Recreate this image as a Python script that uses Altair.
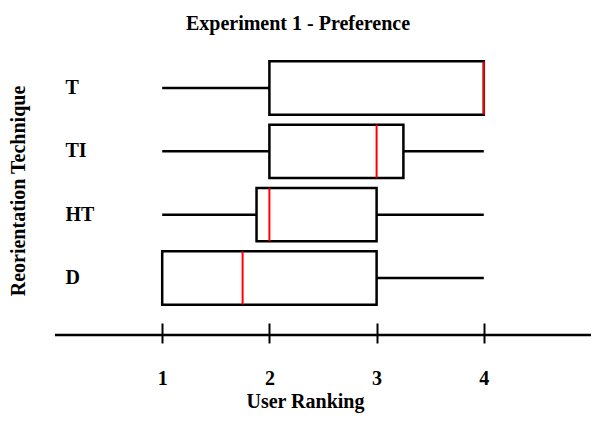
import altair as alt
import pandas as pd

categories = ["T", "TI", "HT", "D"]
lower_whisker = [1, 1, 1, 1]
q1 = [2, 2, 1.88, 1]
median = [4, 3, 2, 1.75]
q3 = [4, 3.25, 3, 3]
upper_whisker = [4, 4, 4, 4]
tick_values = [1, 2, 3, 4]
axis_extent = [0, 5.03]

df = pd.DataFrame({
    "cat": categories,
    "lo": lower_whisker,
    "q1": q1,
    "med": median,
    "q3": q3,
    "hi": upper_whisker,
})
axis_df = pd.DataFrame({"start": [axis_extent[0]], "end": [axis_extent[1]]})

FONT = "Liberation Serif"

xscale = alt.Scale(domain=[0, 5], nice=False, zero=False)
yscale = alt.Scale(domain=categories, paddingInner=0.158, paddingOuter=0.274, align=0.125)

x_axis = alt.Axis(
    values=tick_values, format="d", title="User Ranking", grid=False, domain=False,
    titleX=250, titleY=68, titleAlign="center", titleBaseline="top", titleAnchor="start",
)
y_axis = alt.Axis(
    title="Reorientation Technique", titleX=-47, titleY=133.5, domain=False, ticks=False,
    grid=False, titleAlign="center", titleBaseline="middle", titleAngle=270,
)

base = alt.Chart(df)

left_whisk = base.mark_rule(color="black", strokeWidth=2.5).encode(
    x=alt.X("lo:Q", scale=xscale, axis=x_axis),
    x2="q1:Q",
    y=alt.Y("cat:N", scale=yscale, axis=y_axis, sort=categories),
)
right_whisk = base.mark_rule(color="black", strokeWidth=2.5).encode(
    x=alt.X("q3:Q", scale=xscale, axis=x_axis),
    x2="hi:Q",
    y=alt.Y("cat:N", scale=yscale, axis=y_axis, sort=categories),
)
box = base.mark_bar(fill="white", stroke="black", strokeWidth=2.5).encode(
    x=alt.X("q1:Q", scale=xscale, axis=x_axis),
    x2="q3:Q",
    y=alt.Y("cat:N", scale=yscale, axis=y_axis, sort=categories),
)
med = base.mark_tick(color="#ff0000", thickness=2, size=53, opacity=1).encode(
    x=alt.X("med:Q", scale=xscale, axis=x_axis),
    y=alt.Y("cat:N", scale=yscale, axis=y_axis, sort=categories),
)
axis_line = alt.Chart(axis_df).mark_rule(color="black", strokeWidth=2.5).encode(
    x=alt.X("start:Q", scale=xscale, axis=x_axis), x2="end:Q", y=alt.value(278)
)

chart = alt.layer(left_whisk, right_whisk, box, med, axis_line).properties(
    width=536, height=278,
    autosize=alt.AutoSizeParams(type="none"),
    padding={"left": 47, "top": 49, "right": 0, "bottom": 90},
    title=alt.TitleParams(
        "Experiment 1 - Preference", font=FONT, fontSize=20, fontWeight="bold",
        color="black", anchor="middle", frame="group", dx=-25, offset=7,
        baseline="alphabetic",
    ),
).configure(background="white").configure_view(stroke=None).configure_axisX(
    grid=False, domain=False, offset=-12, tickSize=20, tickWidth=2, tickColor="black",
    labelPadding=25, labelFontSize=20, labelFont=FONT, labelFontWeight="bold",
    labelColor="black", titleFont=FONT, titleFontSize=20, titleFontWeight="bold",
    titleColor="black",
).configure_axisY(
    grid=False, domain=False, ticks=False, tickSize=0, offset=-10, labelAlign="left",
    labelPadding=0, labelFont=FONT, labelFontSize=20, labelFontWeight="bold",
    labelColor="black", titleFont=FONT, titleFontSize=20, titleFontWeight="bold",
    titleColor="black",
)

chart.save("out.html", embed_options={"renderer": "svg", "actions": False})
